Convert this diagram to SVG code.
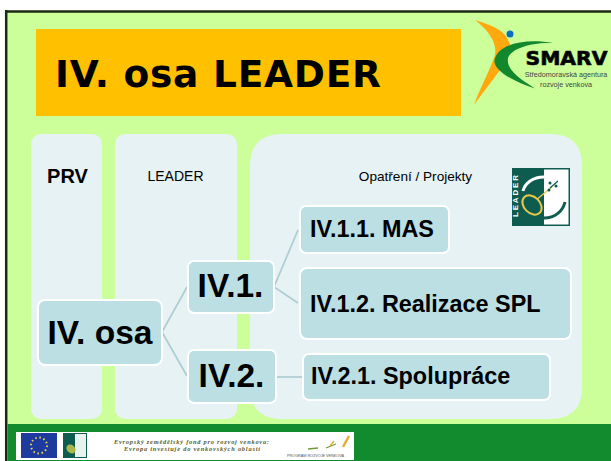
<svg xmlns="http://www.w3.org/2000/svg" width="611" height="461" viewBox="0 0 611 461">
<style>
text{font-family:"Liberation Sans",Arial,sans-serif;fill:#000}
.col{fill:#e6f2f4}
.n{fill:#bbdfe3;stroke:#fff;stroke-width:2}
.c{stroke:#aecdd1;stroke-width:1.700;fill:none}
.b{font-weight:bold}
.dj{font-family:"DejaVu Sans",sans-serif}
.ft{font-family:"Liberation Serif",serif;font-style:italic;font-weight:bold;fill:#5c5c28;font-size:6.400px}
.sm{fill:#444;font-size:7.200px}
</style>
<rect width="611" height="461" fill="#fff"/>
<rect x="7" y="12" width="604" height="449" fill="#ccff99"/>
<path d="M5 11.500H611" stroke="#1a2a12" stroke-width="2.500"/>
<path d="M6.200 10V461" stroke="#1a2a12" stroke-width="2.500"/>
<rect x="36" y="29" width="425" height="87" fill="#ffc000"/>
<text x="55" y="87" class="dj b" font-size="37.500" textLength="326">IV. osa LEADER</text>
<g id="logo-smarv">
<path d="M475 20C492 25 504 31 507 38L512 48L496 58L497 63L500 70C490 84 481 95 474 105C480 88 488 74 494 58C499 46 490 31 475 20Z" fill="#ffa90f"/>
<circle cx="510" cy="34" r="3.500" fill="#0a6fc2"/>
<path d="M553 43C525 38 498 44 494.500 60C493 71 515 82 535 88.500C520 79 506 70 508 58C511 49 530 42 553 43Z" fill="#12882e"/>
<text x="525.500" y="65" font-size="20" class="dj b" stroke="#111" stroke-width=".7" textLength="82" lengthAdjust="spacingAndGlyphs">SMARV</text>
<text x="566" y="76.500" class="sm" text-anchor="middle">Středomoravská agentura</text>
<text x="566" y="86.500" class="sm" text-anchor="middle">rozvoje venkova</text>
</g>
<g id="col-prv"><rect class="col" x="31" y="134" width="71" height="285" rx="10"/><text x="67.500" y="183" font-size="20" class="b" text-anchor="middle">PRV</text></g>
<g id="col-leader"><rect class="col" x="115" y="134" width="122" height="285" rx="10"/><text x="175.500" y="181" font-size="14" text-anchor="middle">LEADER</text></g>
<g id="col-opatreni"><path class="col" d="M283 134H550Q582 134 582 166V387Q582 419 550 419H283Q250 419 250 387V166Q250 134 283 134Z"/><text x="415.500" y="181" font-size="13.600" text-anchor="middle">Opatření / Projekty</text></g>
<g id="logo-leader">
<rect x="512" y="168" width="58" height="58" fill="#0e5c50"/>
<rect x="544" y="169.500" width="24.500" height="55" fill="#fff"/>
<path d="M544 177C533 177 525 183 523 191" fill="none" stroke="#fff" stroke-width="3"/>
<path d="M544 218C555 218 563 211 565 202" fill="none" stroke="#0e5c50" stroke-width="3"/>
<path d="M536 200L552 187" stroke="#e6c84a" stroke-width="1.500"/>
<path d="M550 188L558 181" stroke="#0e5c50" stroke-width="1.200"/>
<ellipse cx="532" cy="205" rx="11" ry="8" transform="rotate(45 532 205)" fill="#0e5c50" stroke="#e6c84a" stroke-width="2"/>
<circle cx="550" cy="183" r="1.500" fill="#0e5c50"/><circle cx="556" cy="186" r="1.500" fill="#0e5c50"/><circle cx="549" cy="190" r="1.500" fill="#0e5c50"/>
<text transform="translate(518 217) rotate(-90)" font-size="8" class="b" style="fill:#fff" textLength="42">LEADER</text>
</g>
<g id="connectors">
<path class="c" d="M187 287L162 332L187 376"/>
<path class="c" d="M298 230L274 287L298 303"/>
<path class="c" d="M277 377H302"/>
</g>
<g id="n-iv-osa"><rect class="n" x="38" y="300" width="124" height="65" rx="7"/><text x="100" y="344" font-size="33.500" class="b" text-anchor="middle">IV. osa</text></g>
<g id="n-iv1"><rect class="n" x="188" y="261" width="86" height="52" rx="6"/><text x="230.500" y="297" font-size="33.500" class="b" text-anchor="middle">IV.1.</text></g>
<g id="n-iv2"><rect class="n" x="188" y="350" width="88" height="53" rx="6"/><text x="231.500" y="387" font-size="33.500" class="b" text-anchor="middle">IV.2.</text></g>
<g id="n-iv11"><rect class="n" x="300" y="206" width="149" height="47" rx="6"/><text x="310" y="237" font-size="23.400" class="b">IV.1.1. MAS</text></g>
<g id="n-iv12"><rect class="n" x="300" y="268" width="271" height="71" rx="7"/><text x="310" y="312" font-size="23.400" class="b">IV.1.2. Realizace SPL</text></g>
<g id="n-iv21"><rect class="n" x="303" y="354" width="247" height="46" rx="6"/><text x="311" y="384" font-size="23.400" class="b">IV.2.1. Spolupráce</text></g>
<rect x="7.500" y="424" width="603.500" height="37" fill="#128a2e"/>
<g id="footer">
<rect x="16" y="432" width="338" height="28" fill="#fff"/>
<rect x="21" y="433" width="36" height="25" fill="#1f3a9e"/>
<circle cx="39" cy="445.500" r="8" fill="none" stroke="#e6d84a" stroke-width="2" stroke-dasharray="1.500 2.700"/>
<rect x="63" y="433" width="24" height="25" fill="#0e5c50"/>
<rect x="75" y="434" width="11" height="23" fill="#e8f2ee"/>
<ellipse cx="71" cy="449" rx="5" ry="4" transform="rotate(40 71 449)" fill="#a8b84a"/>
<text x="114" y="443.500" class="ft" textLength="155">Evropský zemědělský fond pro rozvoj venkova:</text>
<text x="124" y="450.500" class="ft" textLength="136">Evropa investuje do venkovských oblastí</text>
<path d="M308 449L318 448M326 448L336 444" stroke="#6f9a3a" stroke-width="1.300"/>
<path d="M343 447L349 436" stroke="#e0b030" stroke-width="2.500"/>
<path d="M330 446L334 441" stroke="#e0b030" stroke-width="1.500"/>
<text x="287" y="457" font-size="3.800" style="fill:#555" textLength="57">PROGRAM ROZVOJE VENKOVA</text>
</g>
</svg>
